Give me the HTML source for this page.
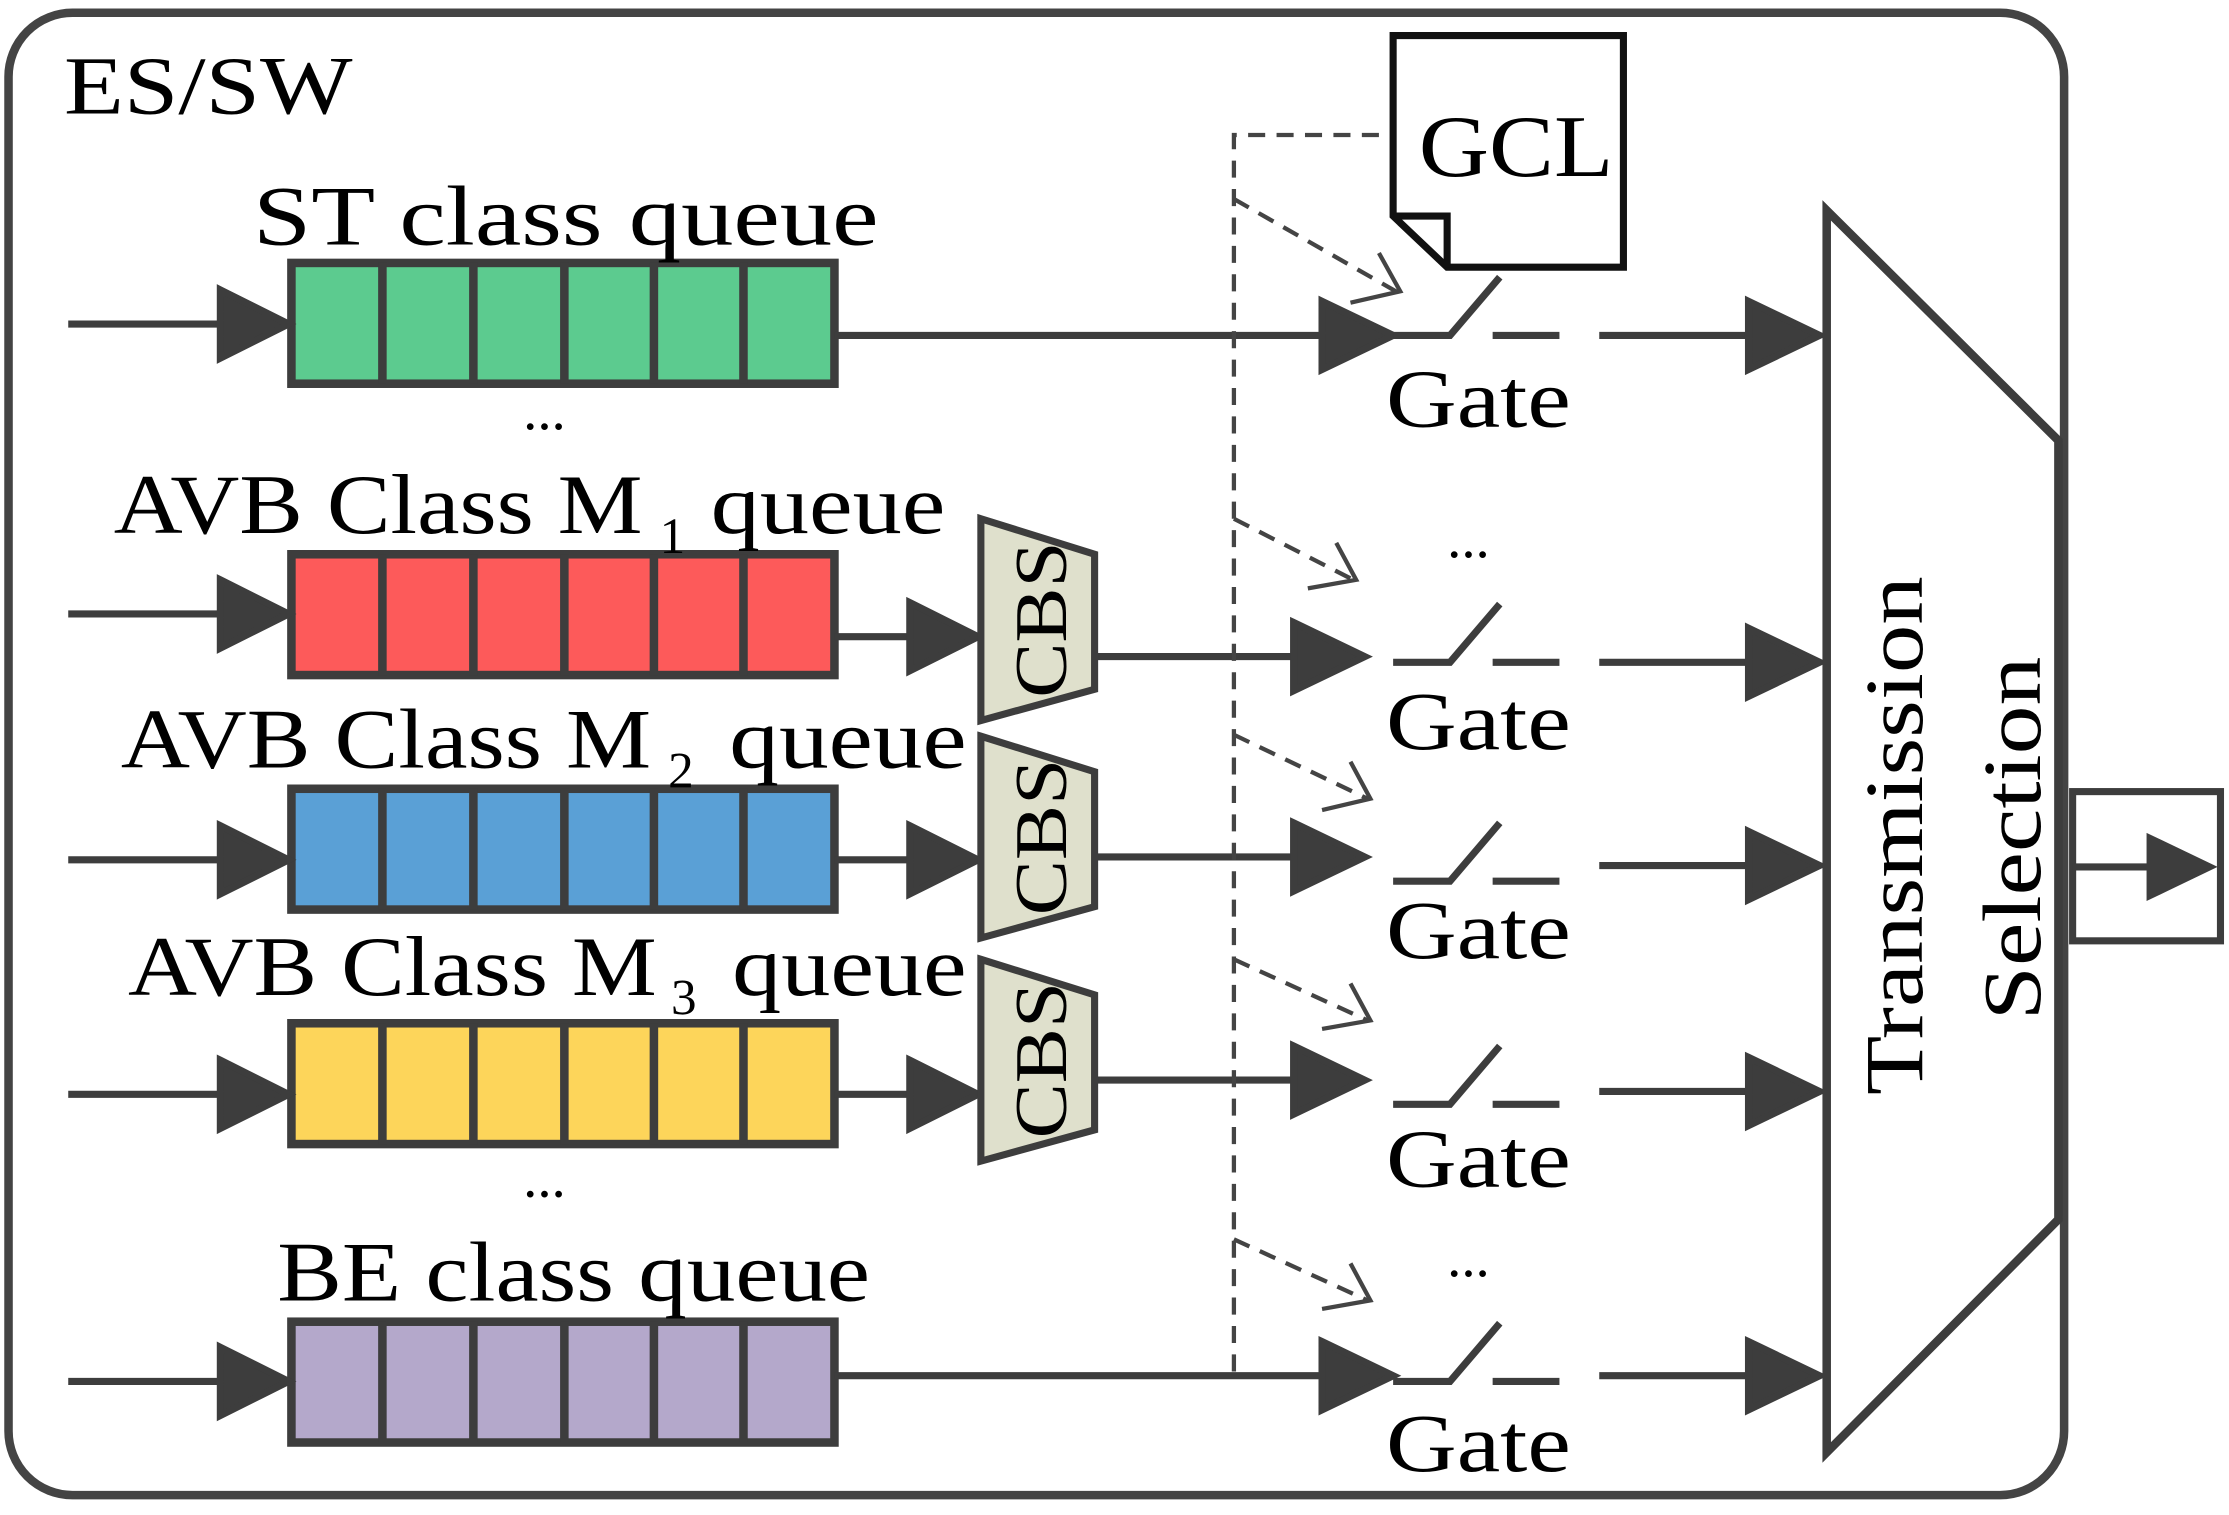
<!DOCTYPE html>
<html><head><meta charset="utf-8"><style>html,body{margin:0;padding:0;background:#fff}svg{display:block}</style></head>
<body>
<svg width="2229" height="1515" viewBox="0 0 1568 1066" preserveAspectRatio="none" xmlns="http://www.w3.org/2000/svg" font-family="'Liberation Serif', serif" fill="#000">
<rect x="6" y="9" width="1446" height="1043" rx="45" fill="#fff" stroke="#444" stroke-width="6"/>
<text x="45" y="80" font-size="58" textLength="203" lengthAdjust="spacingAndGlyphs">ES/SW</text>
<defs>
<g id="cells" stroke="#3d3d3d" stroke-width="6">
<line x1="269" y1="0" x2="269" y2="85"/><line x1="333" y1="0" x2="333" y2="85"/><line x1="397" y1="0" x2="397" y2="85"/><line x1="460" y1="0" x2="460" y2="85"/><line x1="523" y1="0" x2="523" y2="85"/>
</g>
</defs>
<g stroke="#3d3d3d" stroke-width="6">
<rect x="205" y="185" width="382" height="85" fill="#5ccb8f"/>
<rect x="205" y="390" width="382" height="85" fill="#fd5a5a"/>
<rect x="205" y="555" width="382" height="85" fill="#5aa0d6"/>
<rect x="205" y="720" width="382" height="85" fill="#fdd55a"/>
<rect x="205" y="930" width="382" height="85" fill="#b4a8cb"/>
</g>
<use href="#cells" y="185"/><use href="#cells" y="390"/><use href="#cells" y="555"/><use href="#cells" y="720"/><use href="#cells" y="930"/>
<g font-size="60">
<text x="178" y="172" textLength="440" lengthAdjust="spacingAndGlyphs">ST class queue</text>
<text x="80" y="375" textLength="372" lengthAdjust="spacingAndGlyphs">AVB Class M</text>
<text x="464" y="389" font-size="36">1</text>
<text x="500" y="375" textLength="165" lengthAdjust="spacingAndGlyphs">queue</text>
<text x="85" y="540" textLength="373" lengthAdjust="spacingAndGlyphs">AVB Class M</text>
<text x="470" y="554" font-size="36">2</text>
<text x="513" y="540" textLength="167" lengthAdjust="spacingAndGlyphs">queue</text>
<text x="90" y="700" textLength="372" lengthAdjust="spacingAndGlyphs">AVB Class M</text>
<text x="472" y="714" font-size="36">3</text>
<text x="515" y="700" textLength="165" lengthAdjust="spacingAndGlyphs">queue</text>
<text x="195" y="915" textLength="417" lengthAdjust="spacingAndGlyphs">BE class queue</text>
<text x="368" y="302" font-size="40">...</text>
<text x="368" y="842" font-size="40">...</text>
<text x="1018" y="392" font-size="40">...</text>
<text x="1018" y="898" font-size="40">...</text>
</g>
<g stroke="#3d3d3d" stroke-width="5" fill="#3d3d3d">
<line x1="48" y1="228" x2="160" y2="228"/><polygon points="155,204 203,228 155,252"/>
<line x1="48" y1="432" x2="160" y2="432"/><polygon points="155,408 203,432 155,456"/>
<line x1="48" y1="605" x2="160" y2="605"/><polygon points="155,581 203,605 155,629"/>
<line x1="48" y1="770" x2="160" y2="770"/><polygon points="155,746 203,770 155,794"/>
<line x1="48" y1="972" x2="160" y2="972"/><polygon points="155,948 203,972 155,996"/>
<line x1="587" y1="448" x2="645" y2="448"/><polygon points="640,424 688,448 640,472"/>
<line x1="587" y1="605" x2="645" y2="605"/><polygon points="640,581 688,605 640,629"/>
<line x1="587" y1="770" x2="645" y2="770"/><polygon points="640,746 688,770 640,794"/>
<line x1="587" y1="236" x2="935" y2="236"/><polygon points="930,212 980,236 930,260"/>
<line x1="770" y1="462" x2="915" y2="462"/><polygon points="910,438 960,462 910,486"/>
<line x1="770" y1="603" x2="915" y2="603"/><polygon points="910,579 960,603 910,627"/>
<line x1="770" y1="760" x2="915" y2="760"/><polygon points="910,736 960,760 910,784"/>
<line x1="587" y1="968" x2="935" y2="968"/><polygon points="930,944 980,968 930,992"/>
<line x1="1125" y1="236" x2="1235" y2="236"/><polygon points="1230,212 1280,236 1230,260"/>
<line x1="1125" y1="466" x2="1235" y2="466"/><polygon points="1230,442 1280,466 1230,490"/>
<line x1="1125" y1="609" x2="1235" y2="609"/><polygon points="1230,585 1280,609 1230,633"/>
<line x1="1125" y1="768" x2="1235" y2="768"/><polygon points="1230,744 1280,768 1230,792"/>
<line x1="1125" y1="968" x2="1235" y2="968"/><polygon points="1230,944 1280,968 1230,992"/>
</g>
<g stroke="#3d3d3d" stroke-width="5" fill="#dfe0cc">
<polygon points="690,365 770,390 770,485 690,507"/>
<polygon points="690,518 770,543 770,638 690,660"/>
<polygon points="690,675 770,700 770,795 690,817"/>
</g>
<g font-size="52">
<text transform="translate(750,436) rotate(-90)" text-anchor="middle" textLength="110" lengthAdjust="spacingAndGlyphs">CBS</text>
<text transform="translate(750,589) rotate(-90)" text-anchor="middle" textLength="110" lengthAdjust="spacingAndGlyphs">CBS</text>
<text transform="translate(750,746) rotate(-90)" text-anchor="middle" textLength="110" lengthAdjust="spacingAndGlyphs">CBS</text>
</g>
<g stroke="#3d3d3d" stroke-width="5" fill="none">
<path d="M980,236 H1020 L1055,195 M1050,236 H1097"/>
<path d="M980,466 H1020 L1055,425 M1050,466 H1097"/>
<path d="M980,620 H1020 L1055,579 M1050,620 H1097"/>
<path d="M980,777 H1020 L1055,736 M1050,777 H1097"/>
<path d="M980,972 H1020 L1055,931 M1050,972 H1097"/>
</g>
<g font-size="58">
<text x="975" y="300" textLength="130" lengthAdjust="spacingAndGlyphs">Gate</text>
<text x="975" y="527" textLength="130" lengthAdjust="spacingAndGlyphs">Gate</text>
<text x="975" y="674" textLength="130" lengthAdjust="spacingAndGlyphs">Gate</text>
<text x="975" y="835" textLength="130" lengthAdjust="spacingAndGlyphs">Gate</text>
<text x="975" y="1035" textLength="130" lengthAdjust="spacingAndGlyphs">Gate</text>
</g>
<g stroke="#444" stroke-width="3" fill="none" stroke-dasharray="12,8">
<path d="M868,965 V95 H978"/>
<path d="M868,140 L982,205"/>
<path d="M868,365 L952,408"/>
<path d="M868,517 L962,562"/>
<path d="M868,675 L962,718"/>
<path d="M868,872 L962,915"/>
</g>
<g stroke="#444" stroke-width="3" fill="none">
<path d="M970,178 L985,205 L950,213"/>
<path d="M940,382 L954,408 L920,414"/>
<path d="M950,536 L964,562 L930,570"/>
<path d="M950,692 L964,718 L930,724"/>
<path d="M950,889 L964,915 L930,921"/>
</g>
<path d="M980,25 H1142 V188 H1018 L980,152 Z" fill="#fff" stroke="#111" stroke-width="5"/>
<path d="M980,152 H1018 V188" fill="none" stroke="#111" stroke-width="5"/>
<text x="998" y="124" font-size="62" textLength="137" lengthAdjust="spacingAndGlyphs">GCL</text>
<polygon points="1285,148 1448,310 1448,858 1285,1022" fill="#fff" stroke="#3d3d3d" stroke-width="6"/>
<text transform="translate(1352,588) rotate(-90)" text-anchor="middle" font-size="58" textLength="365" lengthAdjust="spacingAndGlyphs">Transmission</text>
<text transform="translate(1435,590) rotate(-90)" text-anchor="middle" font-size="58" textLength="256" lengthAdjust="spacingAndGlyphs">Selection</text>
<rect x="1458" y="557" width="104" height="105" fill="#fff" stroke="#3d3d3d" stroke-width="5"/>
<line x1="1458" y1="610" x2="1515" y2="610" stroke="#3d3d3d" stroke-width="5"/>
<polygon points="1510,586 1560,610 1510,634" fill="#3d3d3d"/>
</svg>
</body></html>
